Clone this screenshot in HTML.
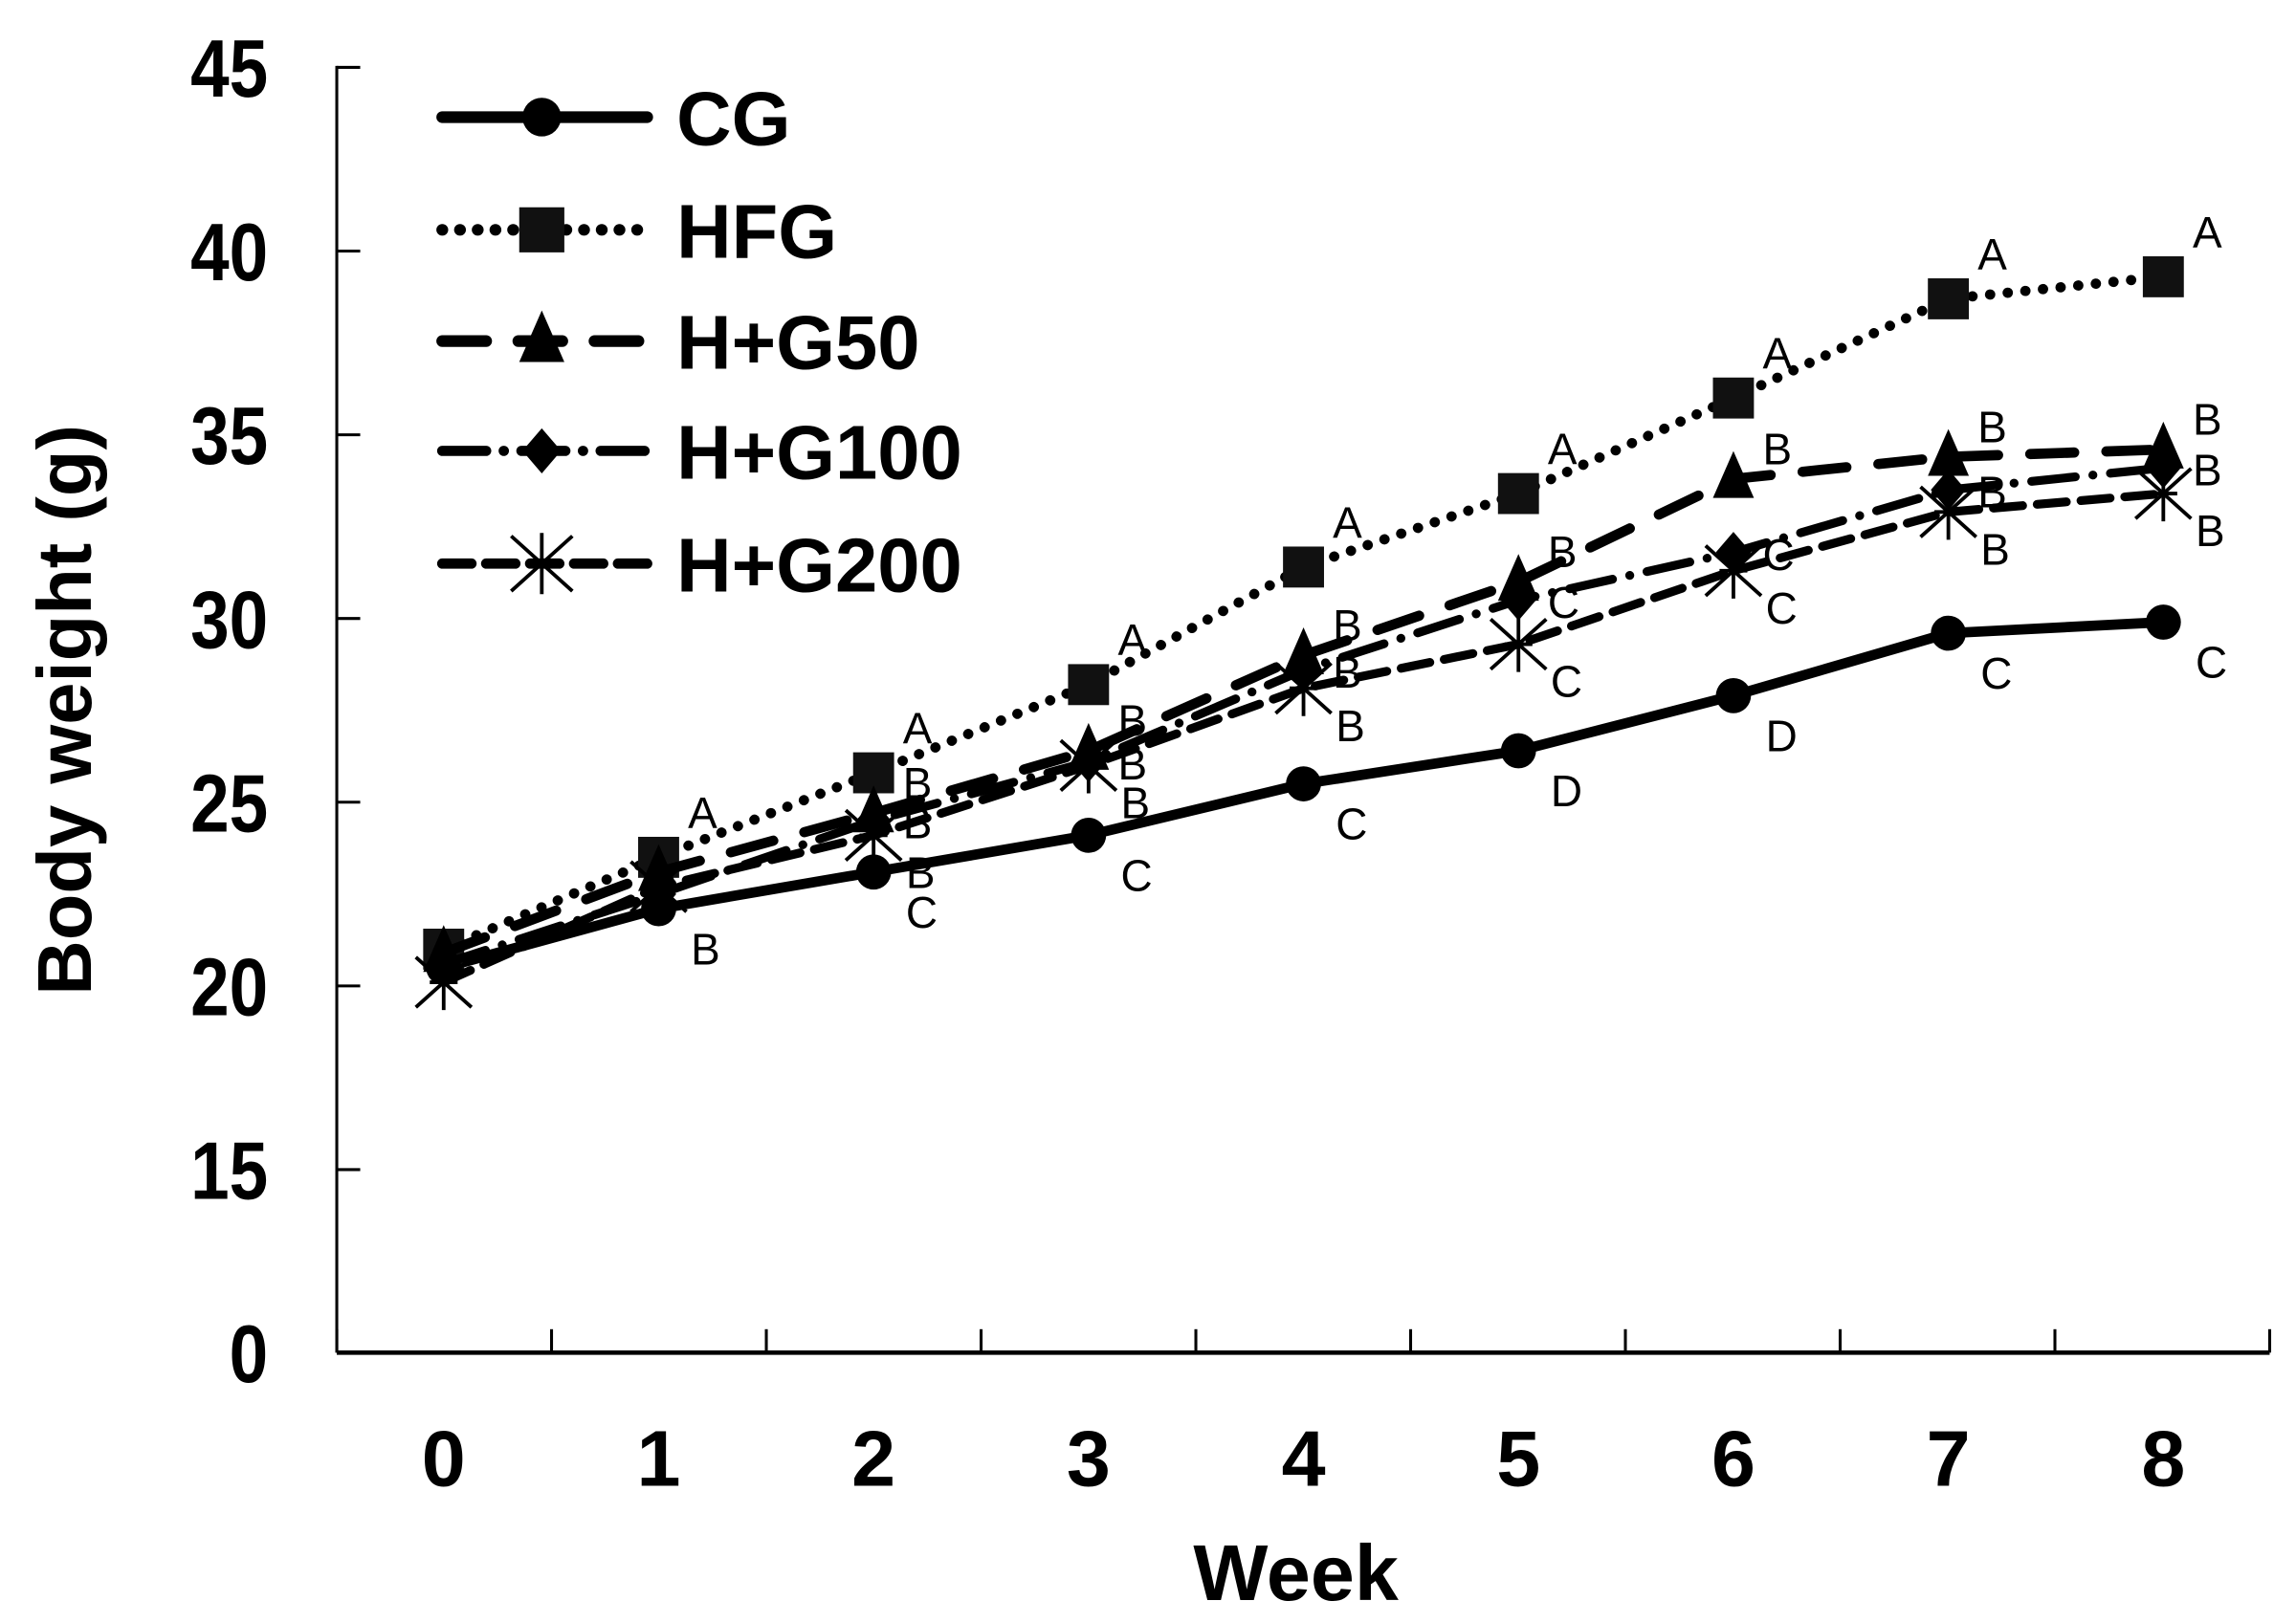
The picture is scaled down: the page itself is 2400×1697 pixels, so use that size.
<!DOCTYPE html>
<html><head><meta charset="utf-8"><style>
html,body{margin:0;padding:0;background:#fff;}
svg{display:block;}
text{font-family:"Liberation Sans",Arial,sans-serif;}
</style></head><body>
<svg id="chart" width="2400" height="1697" viewBox="0 0 1568 1108.7" xmlns="http://www.w3.org/2000/svg"></svg>
<script>
const weeks = [0,1,2,3,4,5,6,7,8];
const yTicks = [0,15,20,25,30,35,40,45];
const cgValues = [20.5,22.1,23.1,24.1,25.5,26.4,27.9,29.6,29.9];
const hfgValues = [21.0,23.5,25.8,28.2,31.4,33.4,36.0,38.7,39.3];
const g50Values = [20.9,23.1,24.7,26.4,29.0,31.0,33.8,34.4,34.6];
const g100Values = [20.6,22.5,24.5,26.1,28.6,30.5,31.8,33.5,34.1];
const g200Values = [20.1,22.7,24.1,26.0,28.1,29.3,31.3,32.9,33.4];
const cgLetters = ["","B","C","C","C","D","D","C","C"];
const hfgLetters = ["","A","A","A","A","A","A","A","A"];
const g50Letters = ["","","B","B","B","B","B","B","B"];
const g100Letters = ["","","B","B","B","C","C","B","B"];
const g200Letters = ["","","B","B","B","C","C","B","B"];
const legendNames = ["CG","HFG","H+G50","H+G100","H+G200"];

const NS="http://www.w3.org/2000/svg";
const svg=document.getElementById('chart');
function mk(tag,attrs,parent){const e=document.createElementNS(NS,tag);for(const k in attrs)e.setAttribute(k,attrs[k]);(parent||svg).appendChild(e);return e;}
function yScale(v){ if(v<15) return 924; return 799-(v-15)*25.1; }
function xScale(w){ return 303 + w*146.8; }

const ax=mk('g',{});


mk('line',{x1:230,y1:45,x2:230,y2:924,stroke:'#000','stroke-width':2},ax);
mk('line',{x1:230,y1:924,x2:1550,y2:924,stroke:'#000','stroke-width':3},ax);
yTicks.forEach(v=>{
  const y=yScale(v);
  mk('line',{x1:230,y1:y,x2:246,y2:y,stroke:'#000','stroke-width':2},ax);
  const t=mk('text',{x:0,y:0,'text-anchor':'end','font-size':56,'font-weight':'bold',transform:`translate(183,${y+20}) scale(0.85,1)`},ax);
  
  
  t.textContent=v;
});
for(let i=0;i<=9;i++){
  const x=230+i*146.67;
  mk('line',{x1:x,y1:908,x2:x,y2:924,stroke:'#000','stroke-width':2},ax);
}
weeks.forEach(w=>{
  const t=mk('text',{x:xScale(w),y:1015,'text-anchor':'middle','font-size':54,'font-weight':'bold'},ax);
  
  
  t.textContent=w;
});
const xt=mk('text',{x:885,y:1093,'text-anchor':'middle','font-size':54,'font-weight':'bold'});


xt.textContent='Week';
const yt=mk('text',{x:0,y:0,'text-anchor':'middle','font-size':52,'font-weight':'bold',transform:'translate(62,485) rotate(-90)'});


yt.textContent='Body weight (g)';

function marker(g,type,x,y,s){
  s=s||1;
  if(type==='circle') mk('circle',{cx:x,cy:y,r:12*s,fill:'#000'},g);
  else if(type==='square') mk('rect',{x:x-14*s,y:y-14*s,width:28*s,height:28*s,fill:'#111'},g);
  else if(type==='triangle') mk('polygon',{points:`${x},${y-19*s} ${x+14*s},${y+13*s} ${x-14*s},${y+13*s}`,fill:'#000'},g);
  else if(type==='diamond') mk('polygon',{points:`${x},${y-14*s} ${x+12*s},${y} ${x},${y+14*s} ${x-12*s},${y}`,fill:'#000'},g);
  else if(type==='star'){
    const r=19*s;
    mk('path',{d:`M${x-r},${y-r*0.9}L${x+r},${y+r*0.9}M${x+r},${y-r*0.9}L${x-r},${y+r*0.9}M${x},${y-r}L${x},${y+r}M${x-r*0.5},${y}L${x+r*0.5},${y}`,stroke:'#000','stroke-width':2.5,fill:'none'},g);
  }
}
const series=[
  {name:'cg',vals:cgValues,letters:cgLetters,m:'circle',dash:'',w:7,ldx:22,ldy:38},
  {name:'hfg',vals:hfgValues,letters:hfgLetters,m:'square',dash:'0.1 12',w:7,ldx:20,ldy:-20},
  {name:'h-g50',vals:g50Values,letters:g50Letters,m:'triangle',dash:'30 22',w:7,ldx:20,ldy:-10},
  {name:'h-g100',vals:g100Values,letters:g100Letters,m:'diamond',dash:'30 12 0.1 12',w:6,ldx:20,ldy:12},
  {name:'h-g200',vals:g200Values,letters:g200Letters,m:'star',dash:'20 10',w:6,ldx:22,ldy:36}
];
series.forEach(s=>{
  const g=mk('g',{});
  
  
  const pts=s.vals.map((v,i)=>xScale(weeks[i])+','+yScale(v)).join(' ');
  const pl=mk('polyline',{points:pts,fill:'none',stroke:'#000','stroke-width':s.w,'stroke-linecap':'round','stroke-dasharray':s.dash},g);
  
  
  s.vals.forEach((v,i)=>{
    marker(g,s.m,xScale(weeks[i]),yScale(v));
    if(s.letters[i]){
      const t=mk('text',{x:xScale(weeks[i])+s.ldx,y:yScale(v)+s.ldy,'font-size':30},g);
      
      
      t.textContent=s.letters[i];
    }
  });
});
const lg=mk('g',{});


const legendY=[80,157,233,308,385];
legendNames.forEach((n,i)=>{
  const s=series[i];
  const e=mk('g',{},lg);
  
  
  mk('line',{x1:302,y1:legendY[i],x2:442,y2:legendY[i],stroke:'#000','stroke-width':s.w+1,'stroke-linecap':'round','stroke-dasharray':s.dash},e);
  marker(e,s.m,370,legendY[i],1.1);
  const t=mk('text',{x:462,y:legendY[i]+19,'font-size':52,'font-weight':'bold'},e);
  t.textContent=n;
});
</script>
</body></html>
